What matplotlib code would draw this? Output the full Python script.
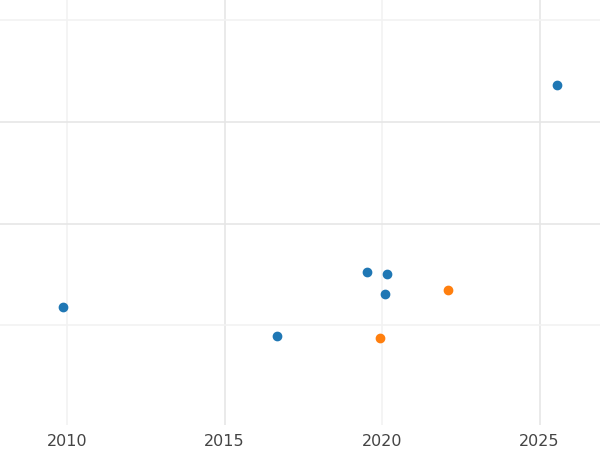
import matplotlib
matplotlib.use("Agg")
import matplotlib.pyplot as plt

blue_x = [2009.87, 2016.67, 2019.52, 2020.16, 2020.10, 2025.56]
blue_y = [1.18, 0.89, 1.52, 1.50, 1.31, 3.36]
orange_x = [2022.10, 2019.94]
orange_y = [1.35, 0.87]

fig = plt.figure(figsize=(6, 4.5), dpi=100)
ax = fig.add_axes([0, 0.055, 1, 0.945])

ax.scatter(blue_x, blue_y, s=36, color="#1f77b4", zorder=3)
ax.scatter(orange_x, orange_y, s=36, color="#ff7f0e", zorder=3)

ax.set_xlim(2007.87, 2026.92)
ax.set_ylim(0.017, 4.197)
ax.set_xticks([2010, 2015, 2020, 2025])
ax.set_yticks([1, 2, 3, 4])
ax.set_yticklabels([])
for x, c in zip([2010, 2015, 2020, 2025], ["#f2f2f2", "#e6e6e6", "#f2f2f2", "#e6e6e6"]):
    ax.axvline(x, color=c, lw=1.2, zorder=0)
for y, c in zip([1, 2, 3, 4], ["#f2f2f2", "#e6e6e6", "#e6e6e6", "#f2f2f2"]):
    ax.axhline(y, color=c, lw=1.2, zorder=0)
ax.tick_params(length=0, labelsize=11.5, labelcolor="#444444", pad=6)
for s in ax.spines.values():
    s.set_visible(False)

fig.savefig("out.png")
